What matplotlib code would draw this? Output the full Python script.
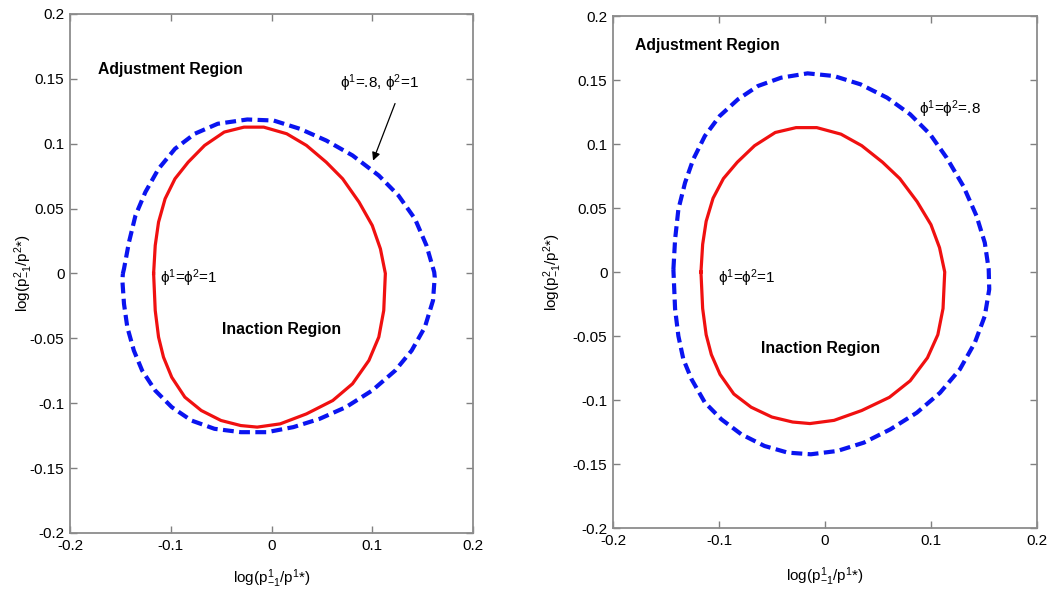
import matplotlib.pyplot as plt
import numpy as np

plt.rcParams['font.family'] = ['Liberation Sans', 'DejaVu Sans']
plt.rcParams['mathtext.fontset'] = 'custom'
plt.rcParams['mathtext.rm'] = 'Liberation Sans'
plt.rcParams['mathtext.it'] = 'Liberation Sans'
plt.rcParams['mathtext.fallback'] = 'stixsans'

# phi1 = phi2 = 1 band (same in both panels)
red_x = [-0.1170, -0.1154, -0.1121, -0.1056, -0.0958, -0.0827, -0.0664, -0.0469, -0.0273, -0.0077,
         0.0151, 0.0347, 0.0543, 0.0706, 0.0869, 0.1000, 0.1081, 0.1130, 0.1114, 0.1065,
         0.0967, 0.0804, 0.0608, 0.0347, 0.0086, -0.0142, -0.0305, -0.0501, -0.0697, -0.0860,
         -0.0990, -0.1072, -0.1121, -0.1154, -0.1170]
red_y = [0.0000, 0.0216, 0.0396, 0.0576, 0.0730, 0.0858, 0.0987, 0.1090, 0.1128, 0.1128,
         0.1077, 0.0987, 0.0858, 0.0730, 0.0550, 0.0370, 0.0190, 0.0000, -0.0285, -0.0490,
         -0.0670, -0.0850, -0.0979, -0.1082, -0.1159, -0.1184, -0.1172, -0.1133, -0.1056, -0.0953,
         -0.0800, -0.0645, -0.0490, -0.0285, 0.0000]

# phi1 = .8, phi2 = 1
blue1_x = [-0.1475, -0.1464, -0.1415, -0.1350, -0.1252, -0.1121, -0.0958, -0.0762, -0.0534, -0.0240,
           0.0021, 0.0282, 0.0543, 0.0804, 0.1065, 0.1260, 0.1424, 0.1538, 0.1615, 0.1620,
           0.1603, 0.1522, 0.1391, 0.1228, 0.0999, 0.0739, 0.0478, 0.0217, -0.0044, -0.0305,
           -0.0566, -0.0795, -0.0990, -0.1154, -0.1284, -0.1366, -0.1431, -0.1464, -0.1480, -0.1475]
blue1_y = [0.0000, 0.0036, 0.0240, 0.0447, 0.0627, 0.0807, 0.0961, 0.1077, 0.1154, 0.1187,
           0.1179, 0.1115, 0.1025, 0.0910, 0.0755, 0.0601, 0.0421, 0.0216, 0.0010, -0.0028,
           -0.0208, -0.0414, -0.0594, -0.0748, -0.0902, -0.1030, -0.1120, -0.1184, -0.1223, -0.1223,
           -0.1197, -0.1133, -0.1030, -0.0902, -0.0748, -0.0594, -0.0414, -0.0234, -0.0054, 0.0000]

# phi1 = phi2 = .8
blue2_x = [-0.1430, -0.1414, -0.1383, -0.1320, -0.1243, -0.1133, -0.0993, -0.0821, -0.0633, -0.0414,
           -0.0164, 0.0086, 0.0336, 0.0586, 0.0804, 0.0992, 0.1148, 0.1305, 0.1430, 0.1508,
           0.1545, 0.1550, 0.1508, 0.1414, 0.1273, 0.1086, 0.0867, 0.0617, 0.0367, 0.0117,
           -0.0133, -0.0352, -0.0571, -0.0789, -0.0977, -0.1133, -0.1258, -0.1336, -0.1383, -0.1414,
           -0.1430]
blue2_y = [0.0020, 0.0255, 0.0490, 0.0698, 0.0880, 0.1063, 0.1219, 0.1349, 0.1453, 0.1518,
           0.1552, 0.1531, 0.1466, 0.1362, 0.1232, 0.1076, 0.0893, 0.0672, 0.0438, 0.0229,
           0.0020, -0.0135, -0.0344, -0.0552, -0.0760, -0.0943, -0.1099, -0.1229, -0.1333, -0.1398,
           -0.1424, -0.1411, -0.1359, -0.1268, -0.1151, -0.1020, -0.0839, -0.0682, -0.0500, -0.0290,
           0.0020]

xticks = [-0.2, -0.1, 0, 0.1, 0.2]
yticks = [-0.2, -0.15, -0.1, -0.05, 0, 0.05, 0.1, 0.15, 0.2]
xtick_labels = ['-0.2', '-0.1', '0', '0.1', '0.2']
ytick_labels = ['-0.2', '-0.15', '-0.1', '-0.05', '0', '0.05', '0.1', '0.15', '0.2']

fig = plt.figure(figsize=(10.62, 5.93), dpi=100)
ax1 = fig.add_axes([0.0659, 0.1012, 0.3795, 0.8752])
ax2 = fig.add_axes([0.5772, 0.1096, 0.3992, 0.8634])


def style(ax):
    ax.set_xlim(-0.2, 0.2)
    ax.set_ylim(-0.2, 0.2)
    ax.set_xticks(xticks)
    ax.set_xticklabels(xtick_labels)
    ax.set_yticks(yticks)
    ax.set_yticklabels(ytick_labels)
    ax.tick_params(direction='in', top=True, right=True, length=5, width=1,
                   color='0.5', labelsize=11, pad=4)
    for s in ax.spines.values():
        s.set_color('0.55')
        s.set_linewidth(1.3)
    ax.set_xlabel(r'log(p$^1_{-1}$/p$^1$*)', fontsize=11)
    ax.set_ylabel(r'log(p$^2_{-1}$/p$^2$*)', fontsize=11)


for ax, bx, by in [(ax1, blue1_x, blue1_y), (ax2, blue2_x, blue2_y)]:
    ax.plot(bx, by, color='#0a14f0', lw=3, dashes=(2.6, 1.3), dash_joinstyle='round')
    ax.plot(red_x, red_y, color='#f01010', lw=2.3, solid_joinstyle='round')
    style(ax)

ax1.xaxis.set_label_coords(0.5, -0.067)
ax1.yaxis.set_label_coords(-0.087, 0.5)
ax2.xaxis.set_label_coords(0.5, -0.074)
ax2.yaxis.set_label_coords(-0.115, 0.5)

ax1.text(-0.172, 0.157, 'Adjustment Region', fontsize=11.3, fontweight='bold', va='center')
ax1.text(0.068, 0.147, r'ϕ$^1$=.8, ϕ$^2$=1', fontsize=11, va='center')
ax1.annotate('', xy=(0.1008, 0.087), xytext=(0.1226, 0.131),
             arrowprops=dict(arrowstyle='-|>', color='black', lw=0.9,
                             mutation_scale=12, shrinkA=0, shrinkB=0))
ax1.text(-0.1107, -0.004, r'ϕ$^1$=ϕ$^2$=1', fontsize=11, va='center')
ax1.text(0.0104, -0.043, 'Inaction Region', fontsize=11.4, fontweight='bold',
         va='center', ha='center')

ax2.text(-0.179, 0.1766, 'Adjustment Region', fontsize=11.3, fontweight='bold', va='center')
ax2.text(0.0887, 0.127, r'ϕ$^1$=ϕ$^2$=.8', fontsize=11, va='center')
ax2.text(-0.101, -0.005, r'ϕ$^1$=ϕ$^2$=1', fontsize=11, va='center')
ax2.text(-0.0042, -0.0596, 'Inaction Region', fontsize=11.4, fontweight='bold',
         va='center', ha='center')

fig.savefig('out.png', dpi=100)
